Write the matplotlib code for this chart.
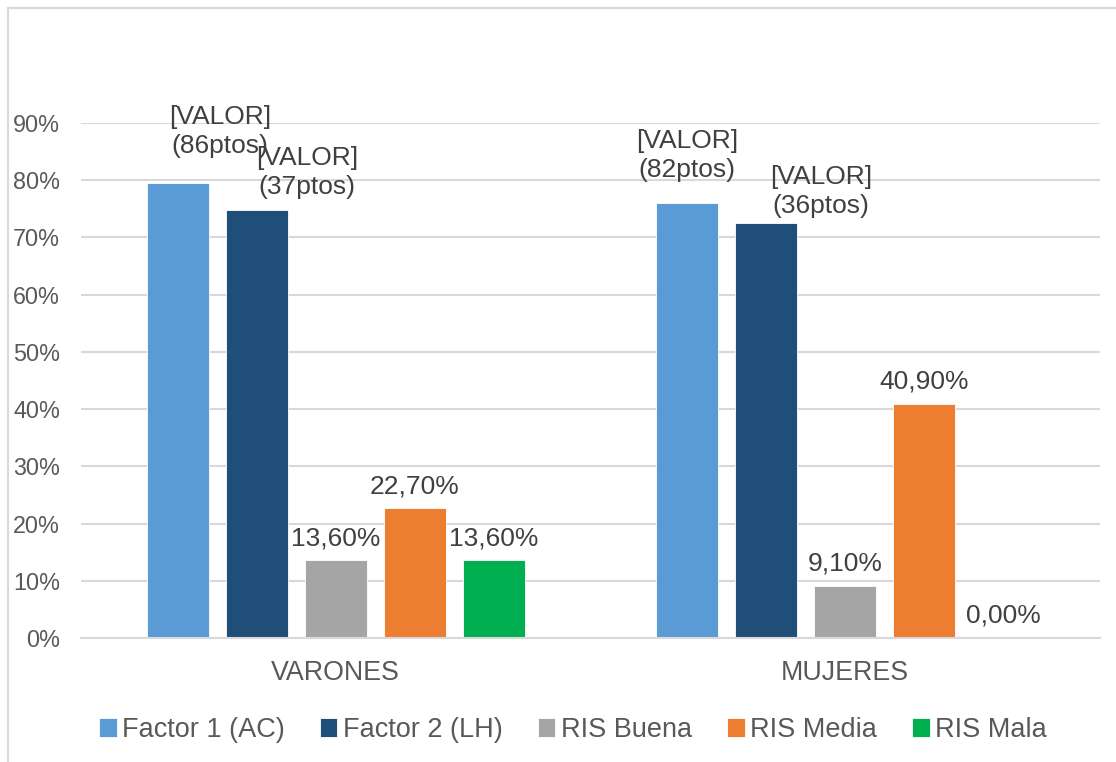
import numpy as np
import matplotlib.pyplot as plt
from matplotlib.lines import Line2D
from matplotlib.ticker import PercentFormatter

plt.rcParams['font.family'] = ['Liberation Sans', 'DejaVu Sans']

categories = ['VARONES', 'MUJERES']
series = ['Factor 1 (AC)', 'Factor 2 (LH)', 'RIS Buena', 'RIS Media', 'RIS Mala']
colors = ['#5B9BD5', '#1F4E79', '#A5A5A5', '#ED7D31', '#00B050']
values = {
    'Factor 1 (AC)': [0.795, 0.760],
    'Factor 2 (LH)': [0.748, 0.726],
    'RIS Buena': [0.136, 0.091],
    'RIS Media': [0.227, 0.409],
    'RIS Mala': [0.136, 0.000],
}
# custom labels for the factor bars (Excel placeholder text)
factor_labels = {
    'Factor 1 (AC)': ['[VALOR]\n(86ptos)', '[VALOR]\n(82ptos)'],
    'Factor 2 (LH)': ['[VALOR]\n(37ptos)', '[VALOR]\n(36ptos)'],
}
# label offsets in points (dx, dy) from the bar top, moved by hand in the original
px = 0.72
label_offsets = {
    'Factor 1 (AC)': [(42 * px, 30 * px), (0, 26 * px)],
    'Factor 2 (LH)': [(50 * px, 16 * px), (55 * px, 10 * px)],
}

fig = plt.figure(figsize=(11.16, 7.62), dpi=100)
ax = fig.add_axes([81 / 1116, 124 / 762, 1019 / 1116, 515 / 762])

x = np.arange(len(categories))
pitch = 0.155
width = 0.1217
text_col = '#404040'

for i, s in enumerate(series):
    pos = x + (i - 2) * pitch
    bars = ax.bar(pos, values[s], width=width, color=colors[i], label=s,
                  edgecolor='white', linewidth=0.6, zorder=3)
    for j, b in enumerate(bars):
        h = values[s][j]
        if s in factor_labels:
            txt = factor_labels[s][j]
            dx, dy = label_offsets[s][j]
        else:
            txt = f'{h * 100:.2f}%'.replace('.', ',')
            dx, dy = 0, 15 * px
        ax.annotate(txt, (b.get_x() + b.get_width() / 2, h), xytext=(dx, dy),
                    textcoords='offset points', ha='center', va='baseline',
                    fontsize=19, color=text_col, linespacing=1.25, zorder=4)

ax.set_xlim(-0.5, 1.5)
ax.set_ylim(0, 0.9)
ax.set_yticks(np.arange(0, 0.91, 0.1))
ax.yaxis.set_major_formatter(PercentFormatter(1.0, decimals=0))
ax.set_xticks(x)
ax.set_xticklabels(categories)
ax.tick_params(axis='y', length=0, pad=15, labelsize=16.8, labelcolor='#595959')
ax.tick_params(axis='x', length=0, pad=16, labelsize=19.3, labelcolor='#595959')
ax.grid(axis='y', color='#D9D9D9', linewidth=1.5, zorder=0)
for sp in ['top', 'right', 'left']:
    ax.spines[sp].set_visible(False)
ax.spines['bottom'].set_color('#D9D9D9')
ax.spines['bottom'].set_linewidth(1.5)
ax.spines['bottom'].set_zorder(5)

fig.legend(loc='center', bbox_to_anchor=(573 / 1116, 1 - 730 / 762), ncol=5,
           frameon=False, fontsize=19.5, handlelength=0.65, handleheight=0.65,
           handletextpad=0.2, columnspacing=1.3, labelcolor='#595959')

# chart frame (top and left edges visible)
fig.add_artist(Line2D([8 / 1116, 8 / 1116], [0, 1 - 8 / 762], transform=fig.transFigure,
                      color='#D9D9D9', linewidth=1.5))
fig.add_artist(Line2D([8 / 1116, 1], [1 - 8 / 762, 1 - 8 / 762], transform=fig.transFigure,
                      color='#D9D9D9', linewidth=1.5))

fig.savefig('out.png', dpi=100)
